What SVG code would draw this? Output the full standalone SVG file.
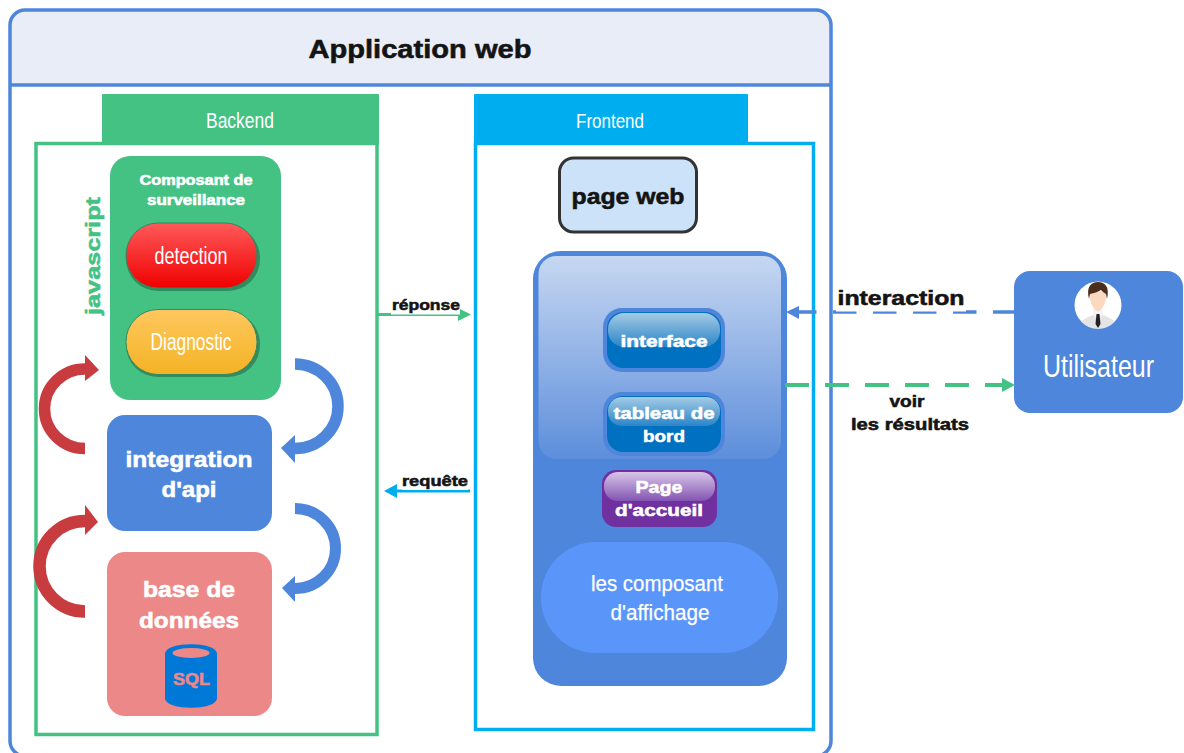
<svg xmlns="http://www.w3.org/2000/svg" width="1184" height="753" viewBox="0 0 1184 753">
<style>
text{font-family:"Liberation Sans",Arial,sans-serif;text-anchor:middle}
.b{font-weight:bold;stroke-width:.55}
.w{fill:#fff}
.b.w{stroke:#fff}
.k{fill:#141414;stroke:#141414}
.g{fill:#44c283;stroke:#44c283}
.s{fill:#ed8888;stroke:#ed8888}
</style>
<defs>
<linearGradient id="gr" x1="0" y1="0" x2="0" y2="1"><stop offset="0" stop-color="#ff5a5a"/><stop offset="1" stop-color="#f00000"/></linearGradient>
<linearGradient id="go" x1="0" y1="0" x2="0" y2="1"><stop offset="0" stop-color="#fec75f"/><stop offset="1" stop-color="#f4b324"/></linearGradient>
<linearGradient id="gb" x1="0" y1="0" x2="0" y2="1"><stop offset="0" stop-color="#c6d7f1"/><stop offset="1" stop-color="#5d8edb"/></linearGradient>
<linearGradient id="gg" x1="0" y1="0" x2="0" y2="1"><stop offset="0" stop-color="#a4cbe4"/><stop offset="1" stop-color="#2a85c9"/></linearGradient>
<linearGradient id="gp" x1="0" y1="0" x2="0" y2="1"><stop offset="0" stop-color="#d8c6e8"/><stop offset="1" stop-color="#8354b2"/></linearGradient>
</defs>
<g id="app">
<path d="M25 10H816a15 15 0 0 1 15 15V85H10V25a15 15 0 0 1 15-15z" fill="#e9edf8"/>
<rect x="10" y="10" width="821" height="746" rx="15" fill="none" stroke="#4e86dc" stroke-width="3.5"/>
<path d="M10 85H831" fill="none" stroke="#4e86dc" stroke-width="3.5"/>
<text x="420" y="58" class="b k" font-size="25" textLength="223" lengthAdjust="spacingAndGlyphs">Application web</text>
</g>
<g id="backend">
<rect x="102" y="94" width="277" height="51" rx="1" fill="#44c283"/>
<rect x="36" y="143.500" width="341" height="591" fill="none" stroke="#44c283" stroke-width="3.500"/>
<text x="240" y="128" class="w" font-size="22" textLength="68" lengthAdjust="spacingAndGlyphs">Backend</text>
<text transform="translate(100 256) rotate(-90)" class="b g" font-size="21" textLength="118" lengthAdjust="spacingAndGlyphs">javascript</text>
</g>
<g id="surveillance">
<rect x="110" y="156" width="171" height="244" rx="20" fill="#44c283"/>
<text x="196" y="185" class="b w" font-size="14" textLength="113" lengthAdjust="spacingAndGlyphs">Composant de</text>
<text x="196" y="205" class="b w" font-size="14" textLength="98" lengthAdjust="spacingAndGlyphs">surveillance</text>
</g>
<g id="detection">
<rect x="126" y="226" width="134" height="65" rx="32" fill="#338b60"/>
<rect x="126" y="223" width="131" height="65" rx="32" fill="url(#gr)" stroke="#2f8a60"/>
<text x="191" y="264" class="w" font-size="23" textLength="73" lengthAdjust="spacingAndGlyphs">detection</text>
</g>
<g id="diagnostic">
<rect x="126" y="312" width="134" height="65" rx="32" fill="#338b60"/>
<rect x="126" y="309.500" width="131" height="65" rx="32" fill="url(#go)" stroke="#2f8a60"/>
<text x="191" y="350" class="w" font-size="23" textLength="81" lengthAdjust="spacingAndGlyphs">Diagnostic</text>
</g>
<g id="api">
<rect x="107" y="415" width="165" height="116" rx="18" fill="#4e86dc"/>
<text x="189" y="467" class="b w" font-size="22" textLength="127" lengthAdjust="spacingAndGlyphs">integration</text>
<text x="189" y="497" class="b w" font-size="22" textLength="55" lengthAdjust="spacingAndGlyphs">d'api</text>
</g>
<g id="bdd">
<rect x="107" y="552" width="165" height="164" rx="18" fill="#ed8888"/>
<text x="189" y="597" class="b w" font-size="22" textLength="92" lengthAdjust="spacingAndGlyphs">base de</text>
<text x="189" y="628" class="b w" font-size="22" textLength="100" lengthAdjust="spacingAndGlyphs">données</text>
<path d="M165 654C165 641 217 641 217 654V698C217 711 165 711 165 698z" fill="#0078d7"/>
<ellipse cx="191" cy="653" rx="18.500" ry="5" fill="#ed8888"/>
<text x="191.500" y="685" class="b s" font-size="17" textLength="37" lengthAdjust="spacingAndGlyphs">SQL</text>
</g>
<g id="frontend">
<rect x="474" y="94" width="274" height="51" rx="1" fill="#00aeef"/>
<rect x="475.500" y="143.500" width="338" height="586" fill="none" stroke="#00aeef" stroke-width="3.500"/>
<text x="610" y="128" class="w" font-size="21" textLength="68" lengthAdjust="spacingAndGlyphs">Frontend</text>
</g>
<g id="pageweb">
<rect x="559.500" y="158" width="137" height="74" rx="14" fill="#cbe2f8" stroke="#333" stroke-width="3"/>
<text x="628" y="204" class="b k" font-size="22" textLength="113" lengthAdjust="spacingAndGlyphs">page web</text>
</g>
<g id="panel">
<rect x="533" y="251" width="254" height="435" rx="28" fill="#4e86dc"/>
<rect x="538.500" y="256" width="242.500" height="203" rx="18" fill="url(#gb)"/>
</g>
<g id="interface">
<rect x="603" y="308" width="122" height="64" rx="19" fill="#4e86dc"/>
<rect x="607" y="312" width="114" height="56" rx="16" fill="#0070c0"/>
<rect x="608" y="313" width="112" height="34" rx="16" fill="url(#gg)"/>
<text x="664" y="347" class="b w" font-size="17" textLength="87" lengthAdjust="spacingAndGlyphs">interface</text>
</g>
<g id="tableau">
<rect x="603" y="392" width="122" height="64" rx="19" fill="#4e86dc"/>
<rect x="607" y="396" width="114" height="56" rx="16" fill="#0070c0"/>
<rect x="608" y="397" width="112" height="29" rx="14" fill="url(#gg)"/>
<text x="664" y="419" class="b w" font-size="17" textLength="101" lengthAdjust="spacingAndGlyphs">tableau de</text>
<text x="664" y="442" class="b w" font-size="17" textLength="42" lengthAdjust="spacingAndGlyphs">bord</text>
</g>
<g id="accueil">
<rect x="602" y="470" width="115" height="57" rx="14" fill="#7030a0"/>
<rect x="604" y="472" width="111" height="29" rx="14" fill="url(#gp)"/>
<text x="659" y="493" class="b w" font-size="17" textLength="47" lengthAdjust="spacingAndGlyphs">Page</text>
<text x="659" y="516" class="b w" font-size="17" textLength="88" lengthAdjust="spacingAndGlyphs">d'accueil</text>
</g>
<g id="affichage">
<rect x="541" y="542" width="237" height="111" rx="55" fill="#5a96fa"/>
<text x="657" y="591" class="w" font-size="22" textLength="132" lengthAdjust="spacingAndGlyphs" stroke="#fff" stroke-width=".25">les composant</text>
<text x="660" y="620" class="w" font-size="22" textLength="99" lengthAdjust="spacingAndGlyphs" stroke="#fff" stroke-width=".25">d'affichage</text>
</g>
<g id="utilisateur">
<rect x="1014" y="271" width="169" height="142" rx="16" fill="#4e86dc"/>
<circle cx="1098" cy="305" r="23.500" fill="#fff"/>
<path d="M1081 321.500q7-5 12-6.500h10q5 1.500 12 6.500a23.500 23.500 0 0 1-34 0z" fill="#e4e4e4"/>
<path d="M1093 309h10v6l-5 4-5-4z" fill="#f5f5f5"/>
<path d="M1090 293q8-4 16 0q1 13-8 19q-9-6-8-19z" fill="#fbd8c0"/>
<path d="M1089 299c-3-12 2-17 9-17s12 5 9 17l-1-5c-3-2-4-3-5-4-3 2-7 3-11 4z" fill="#4a2f1d"/>
<path d="M1096.500 314h3l1 10-2.500 4-2.500-4z" fill="#222"/>
<text x="1098.500" y="377" class="w" font-size="32" textLength="111" lengthAdjust="spacingAndGlyphs">Utilisateur</text>
</g>
<g id="connectors" fill="none">
<path d="M295 364A43 42.250 0 0 1 295 448.500" stroke="#4e86dc" stroke-width="11.500"/>
<path d="M281 448L295 435V463z" fill="#4e86dc"/>
<path d="M295 508.500A40.500 40 0 0 1 295 588.500" stroke="#4e86dc" stroke-width="11"/>
<path d="M282 588L295 576V602z" fill="#4e86dc"/>
<path d="M85 369A40.500 39.750 0 0 0 85 448.500" stroke="#c83c40" stroke-width="11.500"/>
<path d="M99 370L85 355V381z" fill="#c83c40"/>
<path d="M85 521A45.500 45.250 0 0 0 85 611.500" stroke="#c83c40" stroke-width="12.500"/>
<path d="M98 522L85 505V535z" fill="#c83c40"/>
<path d="M377 314.500H460" stroke="#44c283" stroke-width="3"/>
<path d="M471 314.500L458 308V321z" fill="#44c283"/>
<path d="M470 491H395" stroke="#00aeef" stroke-width="3"/>
<path d="M384 491L397 484V498z" fill="#00aeef"/>
<path d="M793 312H1014" stroke="#4e86dc" stroke-width="3.500" stroke-dasharray="23.500 16.500"/>
<path d="M786 312L799 306V319z" fill="#4e86dc"/>
<path d="M785 385H1003" stroke="#44c283" stroke-width="4" stroke-dasharray="24 16"/>
<path d="M1015 385L1002 378V392z" fill="#44c283"/>
</g>
<g id="labels">
<rect x="391" y="296" width="69" height="18.500" fill="#fff"/>
<rect x="402" y="472" width="66" height="18" fill="#fff"/>
<rect x="836" y="288" width="130" height="23.500" fill="#fff"/>
<text x="426" y="310" class="b k" font-size="15" textLength="68" lengthAdjust="spacingAndGlyphs">réponse</text>
<text x="435" y="486" class="b k" font-size="15" textLength="66" lengthAdjust="spacingAndGlyphs">requête</text>
<text x="901" y="305" class="b k" font-size="20" textLength="127" lengthAdjust="spacingAndGlyphs">interaction</text>
<text x="907" y="407" class="b k" font-size="16" textLength="35" lengthAdjust="spacingAndGlyphs">voir</text>
<text x="910" y="430" class="b k" font-size="16" textLength="118" lengthAdjust="spacingAndGlyphs">les résultats</text>
</g>
</svg>
